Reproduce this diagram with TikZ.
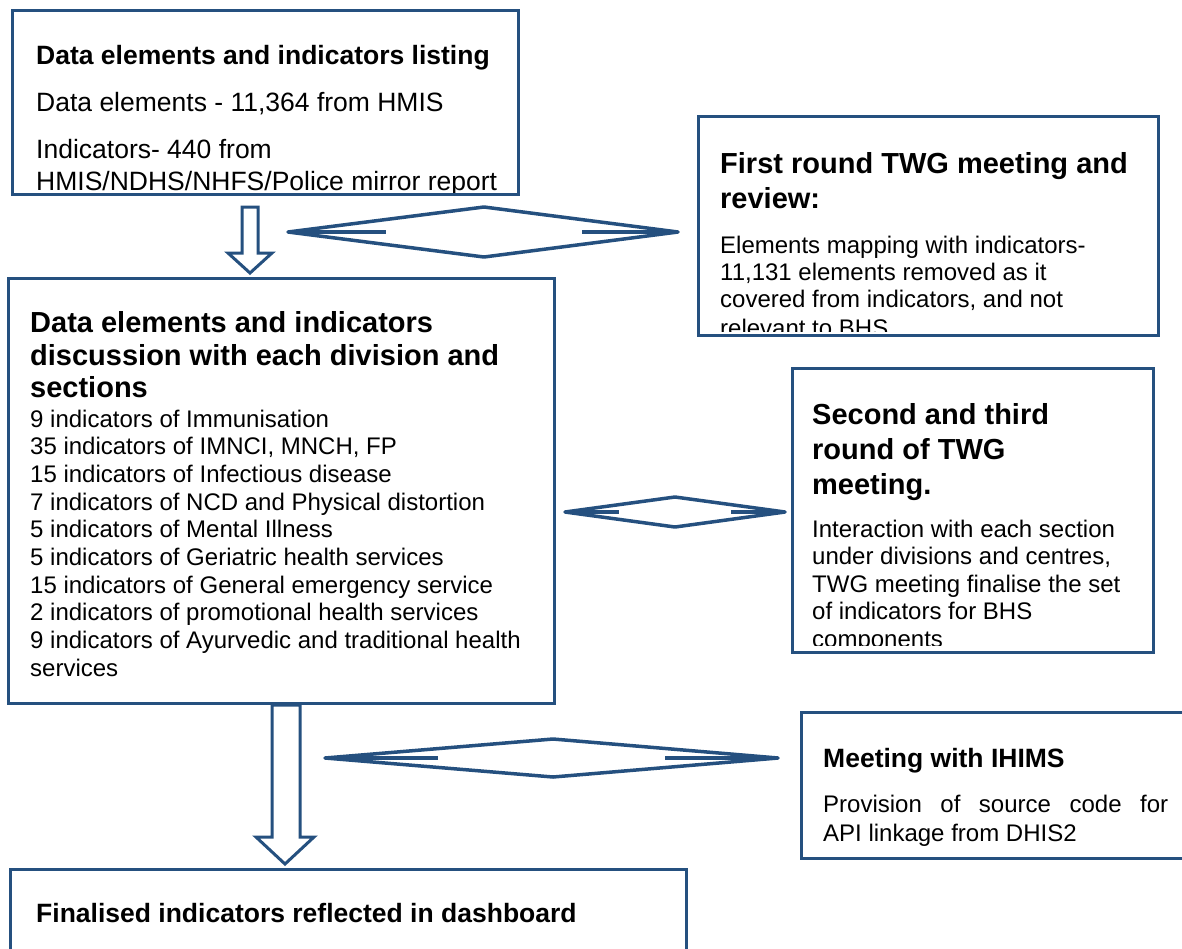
\documentclass[tikz,border=0pt]{standalone}
\usepackage{fontspec}
\setmainfont{Liberation Sans}
\definecolor{bblue}{HTML}{25507F}
\begin{document}
\begin{tikzpicture}[x=1pt,y=-1pt,
  boxline/.style={draw=bblue,line width=3pt},
  arrline/.style={draw=bblue,line width=3.5pt,line join=round,line cap=butt},
  blockarr/.style={draw=bblue,line width=3pt,fill=white,line join=miter},
  body/.style={anchor=base west,inner sep=0pt,font=\fontsize{24}{27.6}\selectfont},
  bodyA/.style={anchor=base west,inner sep=0pt,font=\fontsize{26.5}{30.5}\selectfont},
  ttlA/.style={anchor=base west,inner sep=0pt,font=\fontsize{26.5}{30}\selectfont\bfseries},
  ttlB/.style={anchor=base west,inner sep=0pt,font=\fontsize{29}{33}\selectfont\bfseries}]
\useasboundingbox (0,0) rectangle (1182,948);
\fill[white] (0,0) rectangle (1182,948);

% box outlines
\coordinate (b1nw) at (12,10);   \coordinate (b1se) at (518,194);
\coordinate (b2nw) at (698,116); \coordinate (b2se) at (1158,335);
\coordinate (b3nw) at (8,278);   \coordinate (b3se) at (554,703);
\coordinate (b4nw) at (792,368); \coordinate (b4se) at (1153,652);
\coordinate (b5nw) at (801,712); \coordinate (b5se) at (1200,858);
\coordinate (b6nw) at (10,869);  \coordinate (b6se) at (686,970);

% box 1
\begin{scope}
\clip ([shift={(1.5,1.5)}]b1nw) rectangle ([shift={(-1.5,-1.5)}]b1se);
\node[ttlA] (t1a) at (36,64) {Data elements and indicators listing};
\node[bodyA] (t1b) at (36,111.5) {Data elements - 11,364 from HMIS};
\node[bodyA] (t1c) at (36,158) {Indicators- 440 from};
\node[bodyA] (t1d) at (36,190) {HMIS/NDHS/NHFS/Police mirror report};
\end{scope}
\draw[boxline] (b1nw) rectangle (b1se);

% box 2
\begin{scope}
\clip ([shift={(1.5,1.5)}]b2nw) rectangle ([shift={(-1.5,-4)}]b2se);
\node[ttlB] (t2a) at (720,173) {First round TWG meeting and};
\node[ttlB] (t2b) at (720,208) {review:};
\node[body] (t2c) at (720,253) {Elements mapping with indicators-};
\node[body] (t2d) at (720,280) {11,131 elements removed as it};
\node[body] (t2e) at (720,307) {covered from indicators, and not};
\node[body] (t2f) at (720,336) {relevant to BHS};
\end{scope}
\draw[boxline] (b2nw) rectangle (b2se);

% box 3
\begin{scope}
\clip ([shift={(1.5,1.5)}]b3nw) rectangle ([shift={(-1.5,-1.5)}]b3se);
\node[ttlB] (t3a) at (30,332) {Data elements and indicators};
\node[ttlB] (t3b) at (30,365) {discussion with each division and};
\node[ttlB] (t3c) at (30,397) {sections};
\node[body] (t3d) at (30,427.0) {9 indicators of Immunisation};
\node[body] (t3e) at (30,454.7) {35 indicators of IMNCI, MNCH, FP};
\node[body] (t3f) at (30,482.4) {15 indicators of Infectious disease};
\node[body] (t3g) at (30,510.1) {7 indicators of NCD and Physical distortion};
\node[body] (t3h) at (30,537.8) {5 indicators of Mental Illness};
\node[body] (t3i) at (30,565.5) {5 indicators of Geriatric health services};
\node[body] (t3j) at (30,593.2) {15 indicators of General emergency service};
\node[body] (t3k) at (30,620.9) {2 indicators of promotional health services};
\node[body] (t3l) at (30,648.6) {9 indicators of Ayurvedic and traditional health};
\node[body] (t3m) at (30,676.3) {services};
\end{scope}
\draw[boxline] (b3nw) rectangle (b3se);

% box 4
\begin{scope}
\clip ([shift={(1.5,1.5)}]b4nw) rectangle ([shift={(-1.5,-7)}]b4se);
\node[ttlB] (t4a) at (812,424) {Second and third};
\node[ttlB] (t4b) at (812,459) {round of TWG};
\node[ttlB] (t4c) at (812,494) {meeting.};
\node[body] (t4d) at (812,537.0) {Interaction with each section};
\node[body] (t4e) at (812,564.6) {under divisions and centres,};
\node[body] (t4f) at (812,592.2) {TWG meeting finalise the set};
\node[body] (t4g) at (812,619.8) {of indicators for BHS};
\node[body] (t4h) at (812,647.4) {components};
\end{scope}
\draw[boxline] (b4nw) rectangle (b4se);

% box 5
\draw[boxline] (b5nw) rectangle (b5se);
\node[ttlA] (t5a) at (823,767) {Meeting with IHIMS};
\node[body] (t5b) at (823,812) {\hbox to 345pt{Provision\hfill of\hfill source\hfill code\hfill for}};
\node[body] (t5c) at (823,841) {API linkage from DHIS2};

% box 6
\draw[boxline] (b6nw) rectangle (b6se);
\node[ttlA] (t6a) at (36,922) {Finalised indicators reflected in dashboard};

% block arrows down
\draw[blockarr] (242,207) coordinate (a1) -- (258,207) -- (258,253) -- (272,253)
  -- (250,273) coordinate (a1tip) -- (228,253) -- (242,253) -- cycle;
\draw[blockarr] (272,705) coordinate (a2) -- (300,705) -- (300,837) -- (314,837)
  -- (285,864) coordinate (a2tip) -- (256,837) -- (272,837) -- cycle;

% double arrows
\coordinate (d1l) at (288,232); \coordinate (d1t) at (484,207);
\coordinate (d1r) at (678,232); \coordinate (d1b) at (484,257);
\draw[arrline] (d1l) -- (d1t) -- (d1r) -- (d1b) -- cycle;
\draw[arrline] (d1l) -- (386,232);
\draw[arrline] (582,232) -- (d1r);

\coordinate (d2l) at (565,512); \coordinate (d2t) at (675,497);
\coordinate (d2r) at (785,512); \coordinate (d2b) at (675,527);
\draw[arrline] (d2l) -- (d2t) -- (d2r) -- (d2b) -- cycle;
\draw[arrline] (d2l) -- (619,512);
\draw[arrline] (731,512) -- (d2r);

\coordinate (d3l) at (325,758); \coordinate (d3t) at (553,739);
\coordinate (d3r) at (778,758); \coordinate (d3b) at (553,777);
\draw[arrline] (d3l) -- (d3t) -- (d3r) -- (d3b) -- cycle;
\draw[arrline] (d3l) -- (438,758);
\draw[arrline] (665,758) -- (d3r);
\end{tikzpicture}
\end{document}
